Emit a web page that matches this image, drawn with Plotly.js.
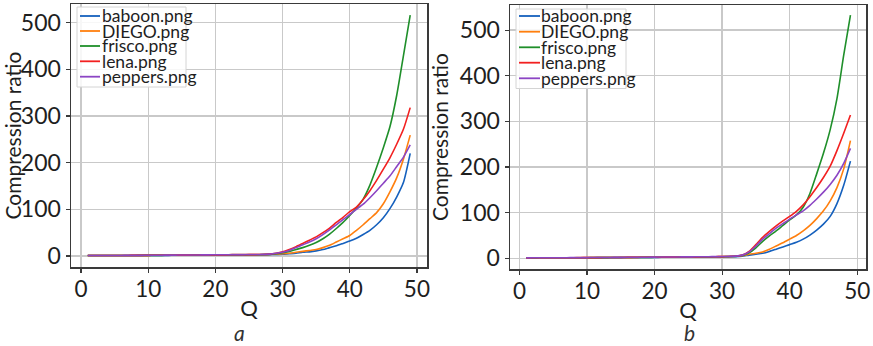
<!DOCTYPE html>
<html>
<head>
<meta charset="utf-8">
<script src="https://cdn.plot.ly/plotly-3.0.1.min.js"></script>
<style>html,body{margin:0;padding:0;background:#fff;}#chart{width:873px;height:346px;}</style>
</head>
<body>
<div id="chart"></div>
<script>
// ---------- data ----------
const seriesNames = ['baboon.png', 'DIEGO.png', 'frisco.png', 'lena.png', 'peppers.png'];
const seriesColors = ['#1560bd', '#ff7f0e', '#1f8f2a', '#f22020', '#8c45c4'];
const Q = [1,2,3,4,5,6,7,8,9,10,11,12,13,14,15,16,17,18,19,20,21,22,23,24,25,26,27,28,29,30,31,32,33,34,35,36,37,38,39,40,41,42,43,44,45,46,47,48,49];
const xTicks = [0, 10, 20, 30, 40, 50];
const yTicks = [0, 100, 200, 300, 400, 500];
const panelLabels = ['a', 'b'];

// panel a
const baboonA = [1.0,1.0,1.1,1.1,1.1,1.2,1.2,1.3,1.3,1.4,1.4,1.5,1.5,1.6,1.6,1.7,1.8,1.9,2.0,2.1,2.2,2.3,2.4,2.5,2.6,2.7,2.8,
  3,3.5,4,5,6,8,9,11,14,18,22,27,32,38,46,55,67,82,102,127,158,220];
const diegoA = [1.0,1.1,1.1,1.2,1.2,1.3,1.3,1.4,1.5,1.5,1.6,1.7,1.8,1.9,2.0,2.1,2.2,2.4,2.5,2.6,2.8,2.9,3.0,3.1,3.2,3.3,3.4,
  3.6,4.2,5,6,8,10,12,14,18,23,30,37,44,55,67,80,93,112,138,168,208,259];
const friscoA = [1.0,1.0,1.1,1.1,1.2,1.2,1.3,1.3,1.4,1.4,1.5,1.5,1.6,1.7,1.8,1.8,1.9,2.0,2.1,2.2,2.3,2.4,2.5,2.6,2.7,2.8,3.0,
  3.5,5,7,10,14,18,23,29,37,47,59,72,87,103,122,152,190,232,278,345,430,516];
const lenaA = [1.0,1.1,1.1,1.2,1.2,1.3,1.3,1.4,1.4,1.5,1.6,1.6,1.7,1.8,1.9,2.0,2.1,2.2,2.3,2.4,2.5,2.6,2.7,2.8,3.0,3.1,3.3,
  4,6,9,14,20,27,34,41,50,60,72,83,95,105,121,140,162,186,211,240,272,318];
const peppersA = [1.0,1.1,1.1,1.2,1.3,1.3,1.4,1.5,1.5,1.6,1.7,1.8,1.9,2.0,2.1,2.2,2.3,2.4,2.5,2.7,2.8,2.9,3.0,3.1,3.2,3.3,3.5,
  4,6,8,12,18,24,30,37,46,56,67,78,89,100,111,125,140,156,172,192,212,238];

// panel b
const baboonB = [1.0,1.0,1.1,1.1,1.1,1.2,1.2,1.3,1.3,1.4,1.4,1.5,1.5,1.6,1.6,1.7,1.8,1.9,2.0,2.1,2.2,2.3,2.4,2.5,2.6,2.7,2.8,2.9,3.0,3.2,3.4,3.7,4.5,
  7,9,11,15,20,25,30,35,42,51,62,75,92,120,160,213];
const diegoB = [1.0,1.1,1.1,1.2,1.2,1.3,1.3,1.4,1.5,1.5,1.6,1.7,1.8,1.9,2.0,2.1,2.2,2.4,2.5,2.6,2.8,2.9,3.0,3.1,3.2,3.3,3.4,3.5,3.6,3.8,4.0,4.4,5.5,
  9,11,14,20,27,34,42,50,60,72,87,104,126,155,196,258];
const friscoB = [1.0,1.0,1.1,1.1,1.2,1.2,1.3,1.3,1.4,1.4,1.5,1.5,1.6,1.7,1.8,1.8,1.9,2.0,2.1,2.2,2.3,2.4,2.5,2.6,2.7,2.8,3.0,3.1,3.3,3.5,3.8,4.3,6.5,
  12,23,37,49,60,72,84,95,112,142,185,230,282,350,445,533];
const lenaB = [1.0,1.1,1.1,1.2,1.2,1.3,1.3,1.4,1.4,1.5,1.6,1.6,1.7,1.8,1.9,2.0,2.1,2.2,2.3,2.4,2.5,2.6,2.7,2.8,3.0,3.1,3.3,3.4,3.6,3.8,4.1,4.6,7,
  15,30,46,59,71,82,92,103,117,135,155,177,202,236,274,314];
const peppersB = [1.0,1.1,1.1,1.2,1.3,1.3,1.4,1.5,1.5,1.6,1.7,1.8,1.9,2.0,2.1,2.2,2.3,2.4,2.5,2.7,2.8,2.9,3.0,3.1,3.2,3.3,3.5,3.6,3.7,3.9,4.2,4.7,7,
  14,27,42,54,66,76,86,95,104,116,130,145,162,182,208,241];

const panelA = [baboonA, diegoA, friscoA, lenaA, peppersA];
const panelB = [baboonB, diegoB, friscoB, lenaB, peppersB];

// ---------- layout helpers ----------
const W = 873, H = 346, ML = 71;
const px = x => (x - ML) / (W - ML);
const py = y => 1 - y / H;
const FONT = 'Lato, "DejaVu Sans", sans-serif';

const traces = [];
panelA.forEach((ys, i) => traces.push({
  x: Q, y: ys, type: 'scatter', mode: 'lines', name: seriesNames[i],
  line: {color: seriesColors[i], width: 1.6, shape: 'spline', smoothing: 0.6}, xaxis: 'x', yaxis: 'y', showlegend: false
}));
panelB.forEach((ys, i) => traces.push({
  x: Q, y: ys, type: 'scatter', mode: 'lines', name: seriesNames[i],
  line: {color: seriesColors[i], width: 1.6, shape: 'spline', smoothing: 0.6}, xaxis: 'x2', yaxis: 'y2', showlegend: false
}));

function xAxis(domain, range, anchor) {
  return {
    domain: domain, range: range, anchor: anchor,
    tickmode: 'array', tickvals: xTicks, ticktext: xTicks.map(String),
    showline: true, mirror: true, linecolor: '#3a3a3a', linewidth: 1.5,
    ticks: 'outside', ticklen: 4, tickwidth: 1.2, tickcolor: '#3a3a3a',
    ticklabelstandoff: -3,
    showgrid: true, gridcolor: '#c9c9c9', gridwidth: 1.3, zeroline: false,
    tickfont: {family: FONT, size: 22.5, color: '#1e1e1e'},
    title: {text: 'Q', font: {family: FONT, size: 22, color: '#1e1e1e'}, standoff: 0}
  };
}
function yAxis(domain, range, anchor) {
  return {
    domain: domain, range: range, anchor: anchor,
    tickmode: 'array', tickvals: yTicks, ticktext: yTicks.map(String),
    showline: true, mirror: true, linecolor: '#3a3a3a', linewidth: 1.5,
    ticks: 'outside', ticklen: 4, tickwidth: 1.2, tickcolor: '#3a3a3a',
    showgrid: true, gridcolor: '#c9c9c9', gridwidth: 1.3, zeroline: false,
    tickfont: {family: FONT, size: 23, color: '#1e1e1e'},
    title: {text: 'Compression ratio', font: {family: FONT, size: 21, color: '#1e1e1e'}, standoff: 5}
  };
}

// manual legends (box + line samples + text)
const shapes = [];
const annotations = [];
function addLegend(box, sampleX0, sampleX1, textX, rowsY) {
  shapes.push({type: 'rect', xref: 'paper', yref: 'paper', layer: 'above',
    x0: px(box[0]), x1: px(box[1]), y0: py(box[3]), y1: py(box[2]),
    line: {color: '#d4d4d4', width: 1}, fillcolor: 'rgba(255,255,255,0.85)'});
  seriesNames.forEach((n, i) => {
    shapes.push({type: 'line', xref: 'paper', yref: 'paper', layer: 'above',
      x0: px(sampleX0), x1: px(sampleX1), y0: py(rowsY[i]), y1: py(rowsY[i]),
      line: {color: seriesColors[i], width: 1.8}});
    annotations.push({xref: 'paper', yref: 'paper', x: px(textX), y: py(rowsY[i]),
      xanchor: 'left', yanchor: 'middle', showarrow: false, text: n,
      font: {family: FONT, size: 17.5, color: '#1e1e1e'}, borderpad: 0});
  });
}
addLegend([77, 186, 7, 87], 80, 100, 101, [16, 31, 46, 61.3, 76.7]);
addLegend([516, 626, 9, 88.5], 519, 540, 540, [16, 31.7, 47.3, 62.7, 78.3]);

annotations.push({xref: 'paper', yref: 'paper', x: px(239), y: 0, xanchor: 'center', yanchor: 'bottom', showarrow: false,
  text: '<i>' + panelLabels[0] + '</i>', font: {family: FONT, size: 21, color: '#333'}, borderpad: 0});
annotations.push({xref: 'paper', yref: 'paper', x: px(689), y: 0, xanchor: 'center', yanchor: 'bottom', showarrow: false,
  text: '<i>' + panelLabels[1] + '</i>', font: {family: FONT, size: 21, color: '#333'}, borderpad: 0});

const layout = {
  width: W, height: H,
  margin: {l: ML, r: 0, t: 0, b: 0},
  paper_bgcolor: '#fff', plot_bgcolor: '#fff',
  showlegend: false,
  xaxis: xAxis([px(71), px(427)], [-1.5, 51.5], 'y'),
  yaxis: yAxis([py(267), py(4)], [-23.5, 540], 'x'),
  xaxis2: xAxis([px(510), px(866)], [-1.4, 51.3], 'y2'),
  yaxis2: yAxis([py(269), py(5)], [-23.4, 555], 'x2'),
  shapes: shapes,
  annotations: annotations
};

Plotly.newPlot('chart', traces, layout, {displayModeBar: false, staticPlot: true});
</script>
</body>
</html>
